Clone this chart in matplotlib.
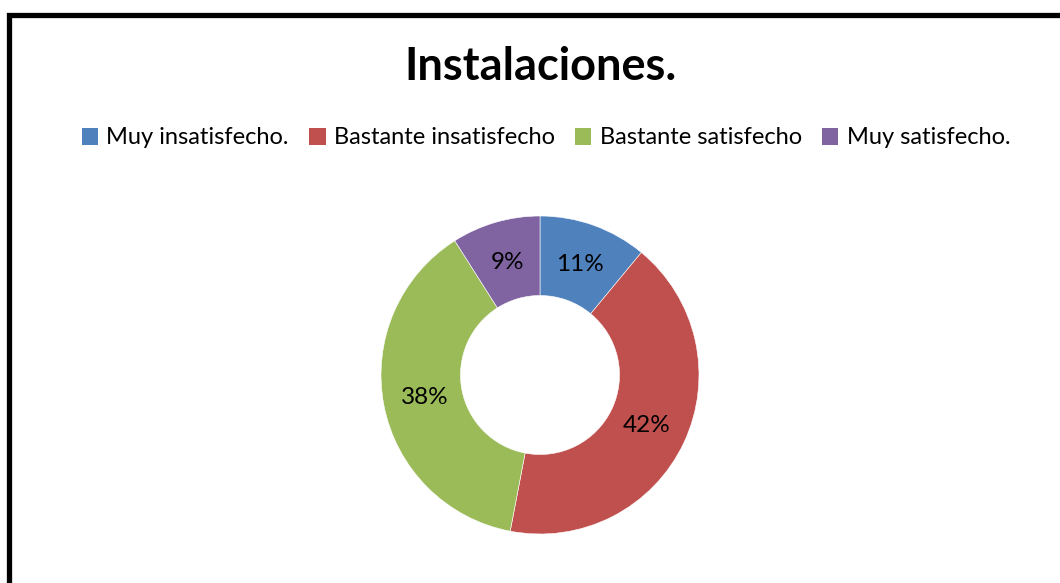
import matplotlib.pyplot as plt
from matplotlib.patches import Rectangle, Patch

plt.rcParams['font.family'] = ['Lato', 'DejaVu Sans']

categorias = ["Muy insatisfecho.", "Bastante insatisfecho", "Bastante satisfecho", "Muy satisfecho."]
porcentajes = [11, 42, 38, 9]
colores = ["#4F81BD", "#C0504D", "#9BBB59", "#8064A2"]

fig = plt.figure(figsize=(10.6, 5.83), dpi=100)

# marco negro del grafico (se sale por la derecha y por abajo)
fig.patches.append(Rectangle((8.5 / 1060, -0.05), 1.1, 1 - 14.5 / 583 + 0.05,
                             transform=fig.transFigure, fill=False,
                             edgecolor="black", linewidth=3.8, zorder=10))

fig.text(540 / 1060, 1 - 67 / 583, "Instalaciones.", ha="center", va="center",
         fontsize=32.5, fontweight="bold")

ax = fig.add_axes([381 / 1060, (583 - 534) / 583, 318 / 1060, 318 / 583])
wedges, texts, autotexts = ax.pie(porcentajes, colors=colores, startangle=90, counterclock=False,
                                  radius=1, wedgeprops=dict(width=0.5, edgecolor="white", linewidth=0.4),
                                  autopct=lambda p: "%d%%" % round(p), pctdistance=0.74,
                                  textprops=dict(fontsize=17.5, color="black"))
ax.set_xlim(-1, 1)
ax.set_ylim(-1, 1)
ax.set_aspect("equal")
ax.axis("off")

handles = [Patch(facecolor=c, edgecolor="none") for c in colores]
fig.legend(handles, categorias, loc="center", bbox_to_anchor=(546 / 1060, 1 - 138 / 583),
           ncol=4, frameon=False, fontsize=17, handlelength=0.7, handleheight=0.7,
           handletextpad=0.35, columnspacing=0.85)

fig.savefig("out.png", dpi=100)
